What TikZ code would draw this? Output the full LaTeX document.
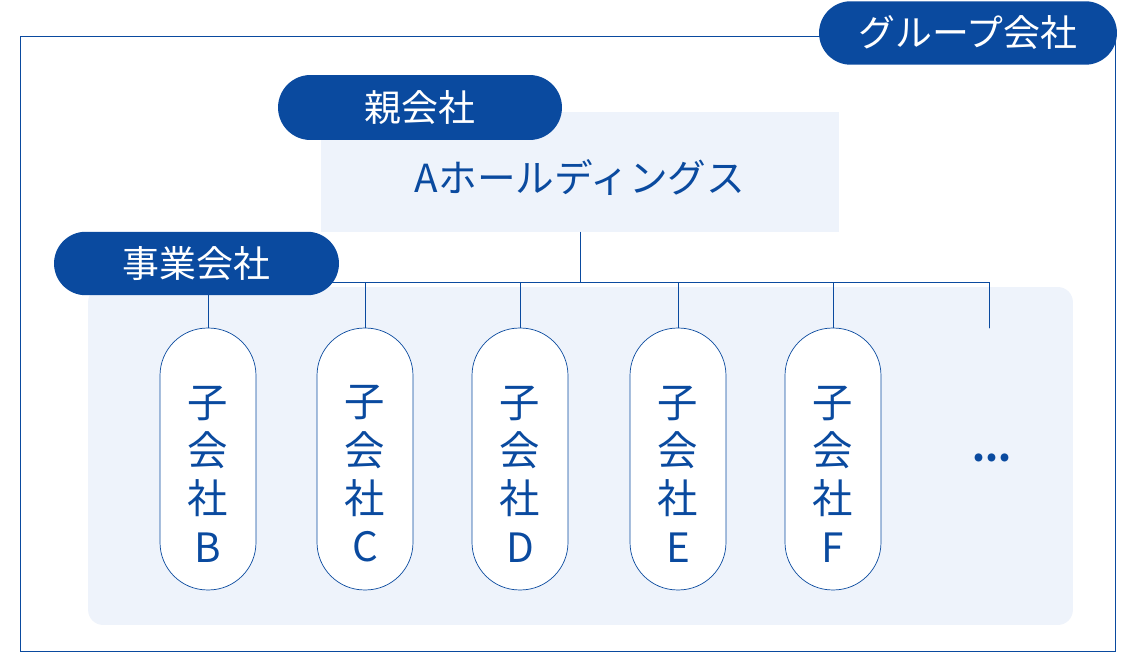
\documentclass[tikz,border=0pt]{standalone}
\usepackage{fontspec}
\setmainfont{Noto Sans CJK JP}
\usepackage{tikz}
\usetikzlibrary{shapes,positioning}
\definecolor{navy}{HTML}{0A4A9F}
\definecolor{paleblue}{HTML}{EEF3FB}
\tikzset{
  tag/.style={rounded rectangle, fill=navy, text=white, inner sep=0pt,
    minimum height=1.27cm, font=\fontsize{21}{24}\selectfont},
  hold/.style={rectangle, fill=paleblue, text=navy, inner sep=0pt,
    minimum width=10.36cm, minimum height=2.4cm, font=\fontsize{22}{26}\selectfont},
  sub/.style={rectangle, draw=navy, fill=white, rounded corners=0.95cm,
    minimum width=1.92cm, minimum height=5.24cm, inner sep=0pt},
  subtext/.style={text=navy, align=center, inner sep=0pt,
    font=\fontsize{23}{27.5}\selectfont},
  link/.style={draw=navy, thin}
}
\begin{document}
\begin{tikzpicture}[x=0.02cm, y=-0.02cm, line cap=round]
    \useasboundingbox (0,0) rectangle (1134,672);

    % group frame
    \draw [navy, thin] (20,36) rectangle (1115,651);
    \node[tag, minimum width=5.96cm] (grp) at (968,33) {グループ会社};

    % parent
    \node[hold] (hd) at (580,172) {};
    \node[text=navy, font=\fontsize{22}{26}\selectfont] (hdname) at (580,178) {Aホールディングス};
    \node[tag, minimum width=5.68cm, minimum height=1.3cm] (par) at (420,107.5) {親会社};

    % operating companies
    \node[rectangle, fill=paleblue, rounded corners=0.3cm, minimum width=19.7cm,
      minimum height=6.76cm] (ops) at (580.5,456) {};

    \coordinate (bus) at (580,282);
    \coordinate (more) at (989,328);
    \draw [link] (hd.south) -- (bus);
    \draw [link] (bus) -| (more);

    \foreach \n/\x in {B/208,C/365,D/520,E/678,F/833}{
      \node[sub] (c\n) at (\x,459) {};
      \node[subtext] (t\n) at (\x,474) {子\\会\\社\\\n};
      \draw [link] (bus) -| (c\n.north);
    }

    \node[text=navy, font=\bfseries\fontsize{21}{24}\selectfont] (dots) at (992,458) {...};

    \node[tag, minimum width=5.7cm] (biz) at (196.5,263.5) {事業会社};

\end{tikzpicture}
\end{document}
